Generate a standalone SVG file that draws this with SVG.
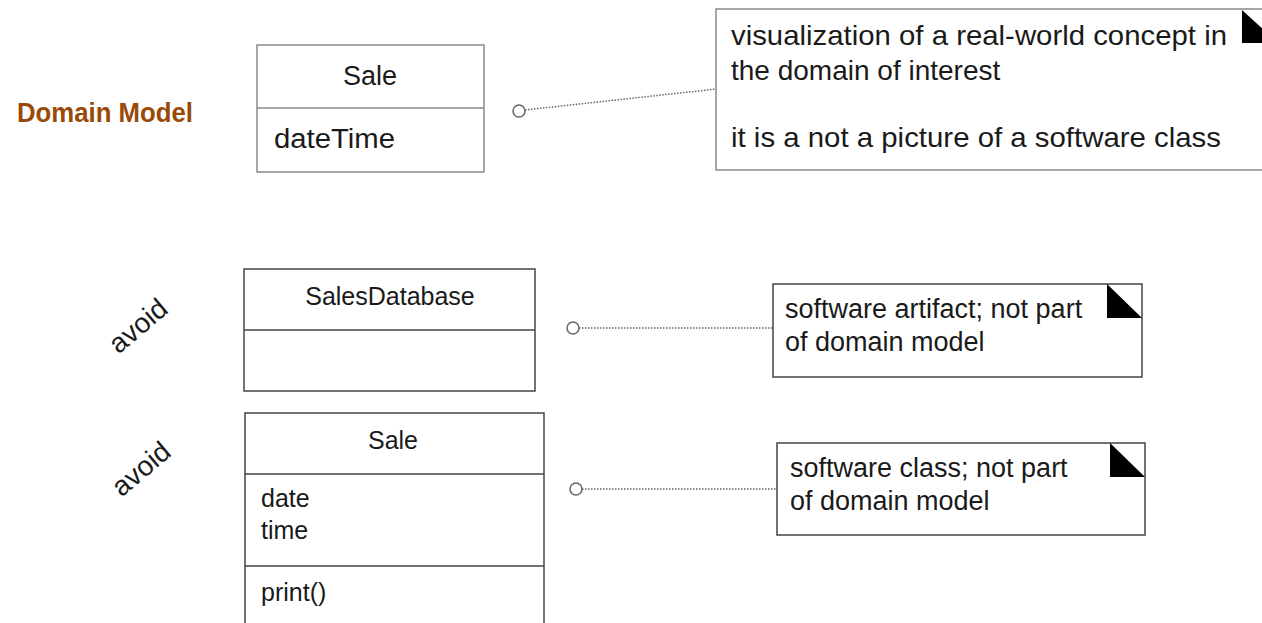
<svg xmlns="http://www.w3.org/2000/svg" width="1262" height="623" viewBox="0 0 1262 623">
<style>
  .box{fill:#fff;stroke:#444;stroke-width:1.5}
  .boxl{fill:#fff;stroke:#8a8a8a;stroke-width:1.5}
  .ln{stroke:#444;stroke-width:1.5;fill:none}
  .lnl{stroke:#8a8a8a;stroke-width:1.5;fill:none}
  .t{font-family:"Liberation Sans",Arial,sans-serif;fill:#1a1a1a}
  .dot{stroke:#666;stroke-width:1.5;stroke-dasharray:1.5 1.5;fill:none}
  .pin{fill:#fff;stroke:#666;stroke-width:1.5}
  .fold{fill:#000}
</style>
<rect width="1262" height="623" fill="#fff"/>
<text class="t" x="17" y="122" font-size="27" font-weight="bold" style="fill:#9A4A08" textLength="176" lengthAdjust="spacingAndGlyphs">Domain Model</text>

<g id="connectors">
  <circle class="pin" cx="519" cy="111" r="6"/>
  <path class="dot" d="M525 110 L716 89"/>
  <circle class="pin" cx="573" cy="328" r="6"/>
  <path class="dot" d="M579 328 L773 328"/>
  <circle class="pin" cx="576" cy="489" r="6"/>
  <path class="dot" d="M582 489 L777 489"/>
</g>

<g id="sale-domain">
  <rect class="boxl" x="257" y="45" width="227" height="127"/>
  <line class="lnl" x1="257" y1="108" x2="484" y2="108"/>
  <text class="t" x="370" y="85" font-size="27" text-anchor="middle">Sale</text>
  <text class="t" x="274" y="148" font-size="27" textLength="121" lengthAdjust="spacingAndGlyphs">dateTime</text>
</g>

<g id="note-domain">
  <rect class="boxl" x="716" y="9" width="570" height="161"/>
  <path class="fold" d="M1242 10 L1242 43 L1278 43 Z"/>
  <text class="t" x="731" y="45" font-size="28" textLength="496" lengthAdjust="spacingAndGlyphs">visualization of a real-world concept in</text>
  <text class="t" x="731" y="80" font-size="28">the domain of interest</text>
  <text class="t" x="731" y="147" font-size="28" textLength="490" lengthAdjust="spacingAndGlyphs">it is a not a picture of a software class</text>
</g>

<g id="avoid-1">
  <text class="t" font-size="28" text-anchor="middle" transform="translate(139 327) rotate(-40)" y="8">avoid</text>
</g>
<g id="avoid-2">
  <text class="t" font-size="28" text-anchor="middle" transform="translate(142 470) rotate(-40)" y="8">avoid</text>
</g>

<g id="sales-database">
  <rect class="box" x="244" y="269" width="291" height="122"/>
  <line class="ln" x1="244" y1="330" x2="535" y2="330"/>
  <text class="t" x="390" y="305" font-size="25" text-anchor="middle">SalesDatabase</text>
</g>

<g id="note-artifact">
  <rect class="box" x="773" y="284" width="369" height="93"/>
  <path class="fold" d="M1107 284 L1107 318 L1142 318 Z"/>
  <text class="t" x="785" y="318" font-size="27">software artifact; not part</text>
  <text class="t" x="785" y="351" font-size="27">of domain model</text>
</g>

<g id="sale-software">
  <rect class="box" x="245" y="413" width="299" height="220"/>
  <line class="ln" x1="245" y1="474" x2="544" y2="474"/>
  <line class="ln" x1="245" y1="566" x2="544" y2="566"/>
  <text class="t" x="393" y="449" font-size="25" text-anchor="middle">Sale</text>
  <text class="t" x="261" y="507" font-size="25">date</text>
  <text class="t" x="261" y="539" font-size="25">time</text>
  <text class="t" x="261" y="601" font-size="25">print()</text>
</g>

<g id="note-class">
  <rect class="box" x="777" y="443" width="368" height="92"/>
  <path class="fold" d="M1110 443 L1110 477 L1145 477 Z"/>
  <text class="t" x="790" y="477" font-size="27">software class; not part</text>
  <text class="t" x="790" y="510" font-size="27">of domain model</text>
</g>
</svg>
